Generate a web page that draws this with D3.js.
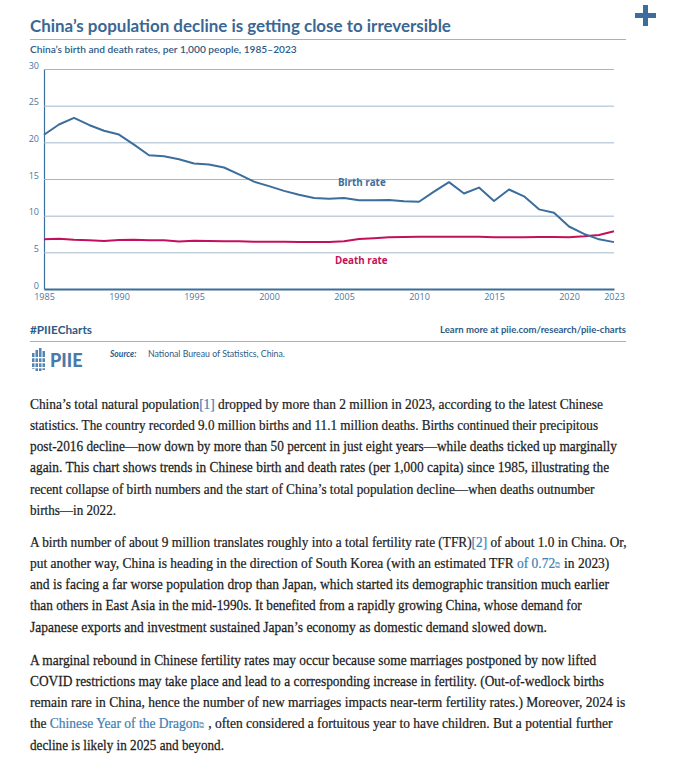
<!DOCTYPE html>
<html><head><meta charset="utf-8">
<script src="https://cdn.jsdelivr.net/npm/d3@7"></script>
<style>
html,body{margin:0;padding:0;background:#fff;}
svg{display:block;}
</style></head>
<body>
<svg id="c" width="673" height="759"></svg>
<script>
// ---- data ----
const years = [1985,1986,1987,1988,1989,1990,1991,1992,1993,1994,1995,1996,1997,1998,1999,2000,2001,2002,2003,2004,2005,2006,2007,2008,2009,2010,2011,2012,2013,2014,2015,2016,2017,2018,2019,2020,2021,2022,2023];
const birthRate = [21.04,22.43,23.33,22.37,21.58,21.06,19.68,18.24,18.09,17.70,17.12,16.98,16.57,15.64,14.64,14.03,13.38,12.86,12.41,12.29,12.40,12.09,12.10,12.14,11.95,11.90,13.27,14.57,13.03,13.83,11.99,13.57,12.64,10.86,10.41,8.52,7.52,6.77,6.39];
const deathRate = [6.78,6.86,6.72,6.64,6.54,6.67,6.70,6.64,6.64,6.49,6.57,6.56,6.51,6.50,6.46,6.45,6.43,6.41,6.40,6.42,6.51,6.81,6.93,7.06,7.08,7.11,7.14,7.13,7.13,7.12,7.07,7.04,7.06,7.08,7.09,7.07,7.18,7.37,7.87];
const xTickValues = [1985,1990,1995,2000,2005,2010,2015,2020,2023];
const yTickValues = [0,5,10,15,20,25,30];
const seriesLabels = ["Birth rate","Death rate"];

const title = "China\u2019s population decline is getting close to irreversible";
const subtitle = "China\u2019s birth and death rates, per 1,000 people, 1985\u20132023";

// body paragraphs: each line is a list of [text, kind] segments (0 plain, 1 link, 2 external-link icon)
const paragraphs = [
 [
  [["China\u2019s total natural population",0],["[1]",1],[" dropped by more than 2 million in 2023, according to the latest Chinese",0]],
  [["statistics. The country recorded 9.0 million births and 11.1 million deaths. Births continued their precipitous",0]],
  [["post-2016 decline\u2014now down by more than 50 percent in just eight years\u2014while deaths ticked up marginally",0]],
  [["again. This chart shows trends in Chinese birth and death rates (per 1,000 capita) since 1985, illustrating the",0]],
  [["recent collapse of birth numbers and the start of China\u2019s total population decline\u2014when deaths outnumber",0]],
  [["births\u2014in 2022.",0]]
 ],
 [
  [["A birth number of about 9 million translates roughly into a total fertility rate (TFR)",0],["[2]",1],[" of about 1.0 in China. Or,",0]],
  [["put another way, China is heading in the direction of South Korea (with an estimated TFR ",0],[" of 0.72",1],["\u29C9",2],["  in 2023)",0]],
  [["and is facing a far worse population drop than Japan, which started its demographic transition much earlier",0]],
  [["than others in East Asia in the mid-1990s. It benefited from a rapidly growing China, whose demand for",0]],
  [["Japanese exports and investment sustained Japan\u2019s economy as domestic demand slowed down.",0]]
 ],
 [
  [["A marginal rebound in Chinese fertility rates may occur because some marriages postponed by now lifted",0]],
  [["COVID restrictions may take place and lead to a corresponding increase in fertility. (Out-of-wedlock births",0]],
  [["remain rare in China, hence the number of new marriages impacts near-term fertility rates.) Moreover, 2024 is",0]],
  [["the ",0],["Chinese Year of the Dragon",1],["\u29C9",2],[" , often considered a fortuitous year to have children. But a potential further",0]],
  [["decline is likely in 2025 and beyond.",0]]
 ]
];
const lineEnds = [[603,598,617,609,594,116],[627,609,609,582,547],[596,604,625,612,224]];
const paraTops = [404,542,660];

// ---- drawing ----
const svg = d3.select("#c");
const blue = "#3b6e9c", grid = "#a3b8cc", crimson = "#c4105a";
const sans = "'Open Sans', Lato, sans-serif";

function fitFont(sel, target, base){
  sel.style("font-size", base+"px");
  const w = sel.node().getComputedTextLength();
  sel.style("font-size", (base*target/w).toFixed(2)+"px");
}

// plus sign
svg.append("rect").attr("x",635).attr("y",13).attr("width",21).attr("height",5).attr("fill",blue);
svg.append("rect").attr("x",643).attr("y",5).attr("width",5).attr("height",21).attr("fill",blue);

// title
const t = svg.append("text").attr("x",30).attr("y",32).text(title)
  .style("font-family","Lato, 'Open Sans', sans-serif").style("font-weight","700").attr("fill","#3a6793");
fitFont(t, 421, 17);
svg.append("line").attr("x1",30).attr("x2",626).attr("y1",39.5).attr("y2",39.5).attr("stroke","#9fb3c6").attr("stroke-width",1);
const st = svg.append("text").attr("x",30).attr("y",53).text(subtitle)
  .style("font-family","Lato, sans-serif").style("font-weight","600").attr("fill","#2e5b86");
fitFont(st, 267, 10);

// chart
const x = d3.scaleLinear().domain([1985,2023]).range([44,614]);
const y = d3.scaleLinear().domain([0,30]).range([289,69]);

const gy = svg.append("g").attr("transform","translate(44,0)")
  .call(d3.axisLeft(y).tickValues(yTickValues).tickSize(-570).tickPadding(5).tickFormat(d3.format("d")));
gy.select(".domain").attr("stroke",blue).attr("stroke-width",1.2);
gy.selectAll(".tick line").attr("stroke",grid).attr("stroke-width",1);
gy.selectAll(".tick text").attr("fill","#4a78a3").style("font-family",sans).style("font-size","9px").attr("dy","-0.1em");

const gx = svg.append("g").attr("transform","translate(0,289)")
  .call(d3.axisBottom(x).tickValues(xTickValues).tickSize(0).tickPadding(5).tickFormat(d3.format("d")));
gx.select(".domain").attr("stroke",blue).attr("stroke-width",2.2);
gx.selectAll(".tick text").attr("fill","#4a78a3").style("font-family",sans).style("font-size","9px");

const line = d3.line().x((d,i)=>x(years[i])).y(d=>y(d));
svg.append("path").datum(deathRate).attr("d",line).attr("fill","none").attr("stroke",crimson).attr("stroke-width",2).attr("stroke-linejoin","round");
svg.append("path").datum(birthRate).attr("d",line).attr("fill","none").attr("stroke",blue).attr("stroke-width",2).attr("stroke-linejoin","round");

svg.append("text").attr("x",x(2004.6)).attr("y",y(14.1)).text(seriesLabels[0])
  .attr("fill",blue).style("font-family",sans).style("font-weight","700").style("font-size","9.8px");
svg.append("text").attr("x",x(2004.4)).attr("y",y(3.45)).text(seriesLabels[1])
  .attr("fill",crimson).style("font-family",sans).style("font-weight","700").style("font-size","9.8px");

// footer
const ft = svg.append("text").attr("x",30).attr("y",334).text("#PIIECharts")
  .attr("fill","#2e5b86").style("font-family","Lato, sans-serif").style("font-weight","700");
fitFont(ft, 62, 10);
const lm = svg.append("text").attr("x",626).attr("y",333).attr("text-anchor","end").text("Learn more at piie.com/research/piie-charts")
  .attr("fill","#2e5b86").style("font-family","Lato, sans-serif").style("font-weight","700");
fitFont(lm, 186, 9);
svg.append("line").attr("x1",30).attr("x2",626).attr("y1",341.5).attr("y2",341.5).attr("stroke","#9fb3c6");

// logo icon (stylised building)
const logo = svg.append("g").attr("fill","#5484b2");
[[32,353,2.5,16],[35.5,350,2.5,21],[39,348,2.5,23],[42.5,351,2.5,19]].forEach(r=>{
  logo.append("rect").attr("x",r[0]).attr("y",r[1]).attr("width",r[2]).attr("height",r[3]);
});
[[31,357,16,1.3],[31,362,16,1.3],[31,367,16,1.3]].forEach(r=>{
  svg.append("rect").attr("x",r[0]).attr("y",r[1]).attr("width",r[2]).attr("height",r[3]).attr("fill","#fff");
});
svg.append("text").attr("x",50).attr("y",367).text("PIIE").attr("fill","#4a7aa8")
  .style("font-family","Lato, sans-serif").style("font-weight","900").style("font-size","18px");
svg.append("text").attr("x",110).attr("y",357).text("Source:").attr("fill","#2e5b86")
  .style("font-family","Lato, sans-serif").style("font-weight","700").style("font-style","italic").style("font-size","8.5px");
const src = svg.append("text").attr("x",148).attr("y",357).text("National Bureau of Statistics, China.").attr("fill","#2e5b86")
  .style("font-family","Lato, sans-serif").style("font-size","8px");
fitFont(src, 137, 8);

// body text: each line horizontally scaled to its measured width in the reference
const serif = "'Liberation Serif', 'DejaVu Serif', serif";
const bodySize = 15.2;

paragraphs.forEach((para,pi)=>{
  para.forEach((ln,li)=>{
    const baseY = paraTops[pi] + li*21.2 + 4.8;
    const g = svg.append("g");
    const tx = g.append("text").attr("x",0).attr("y",0)
      .style("font-family",serif).style("font-size",bodySize+"px").attr("fill","#1c1c1c")
      .attr("stroke","#1c1c1c").attr("stroke-width",0.25);
    ln.forEach(seg=>{
      const ts = tx.append("tspan").text(seg[0]);
      if(seg[1]===1) ts.attr("fill","#3f7fb5").attr("stroke","#3f7fb5");
      if(seg[1]===2) ts.attr("fill","#8aa9c6").attr("stroke","none").style("font-size",(bodySize*0.55).toFixed(2)+"px").style("font-family","'DejaVu Sans', sans-serif");
    });
    const w = tx.node().getComputedTextLength();
    const sx = (lineEnds[pi][li]-30)/w;
    g.attr("transform",`translate(30,${baseY}) scale(${sx.toFixed(4)},1)`);
  });
});
</script>
</body></html>
